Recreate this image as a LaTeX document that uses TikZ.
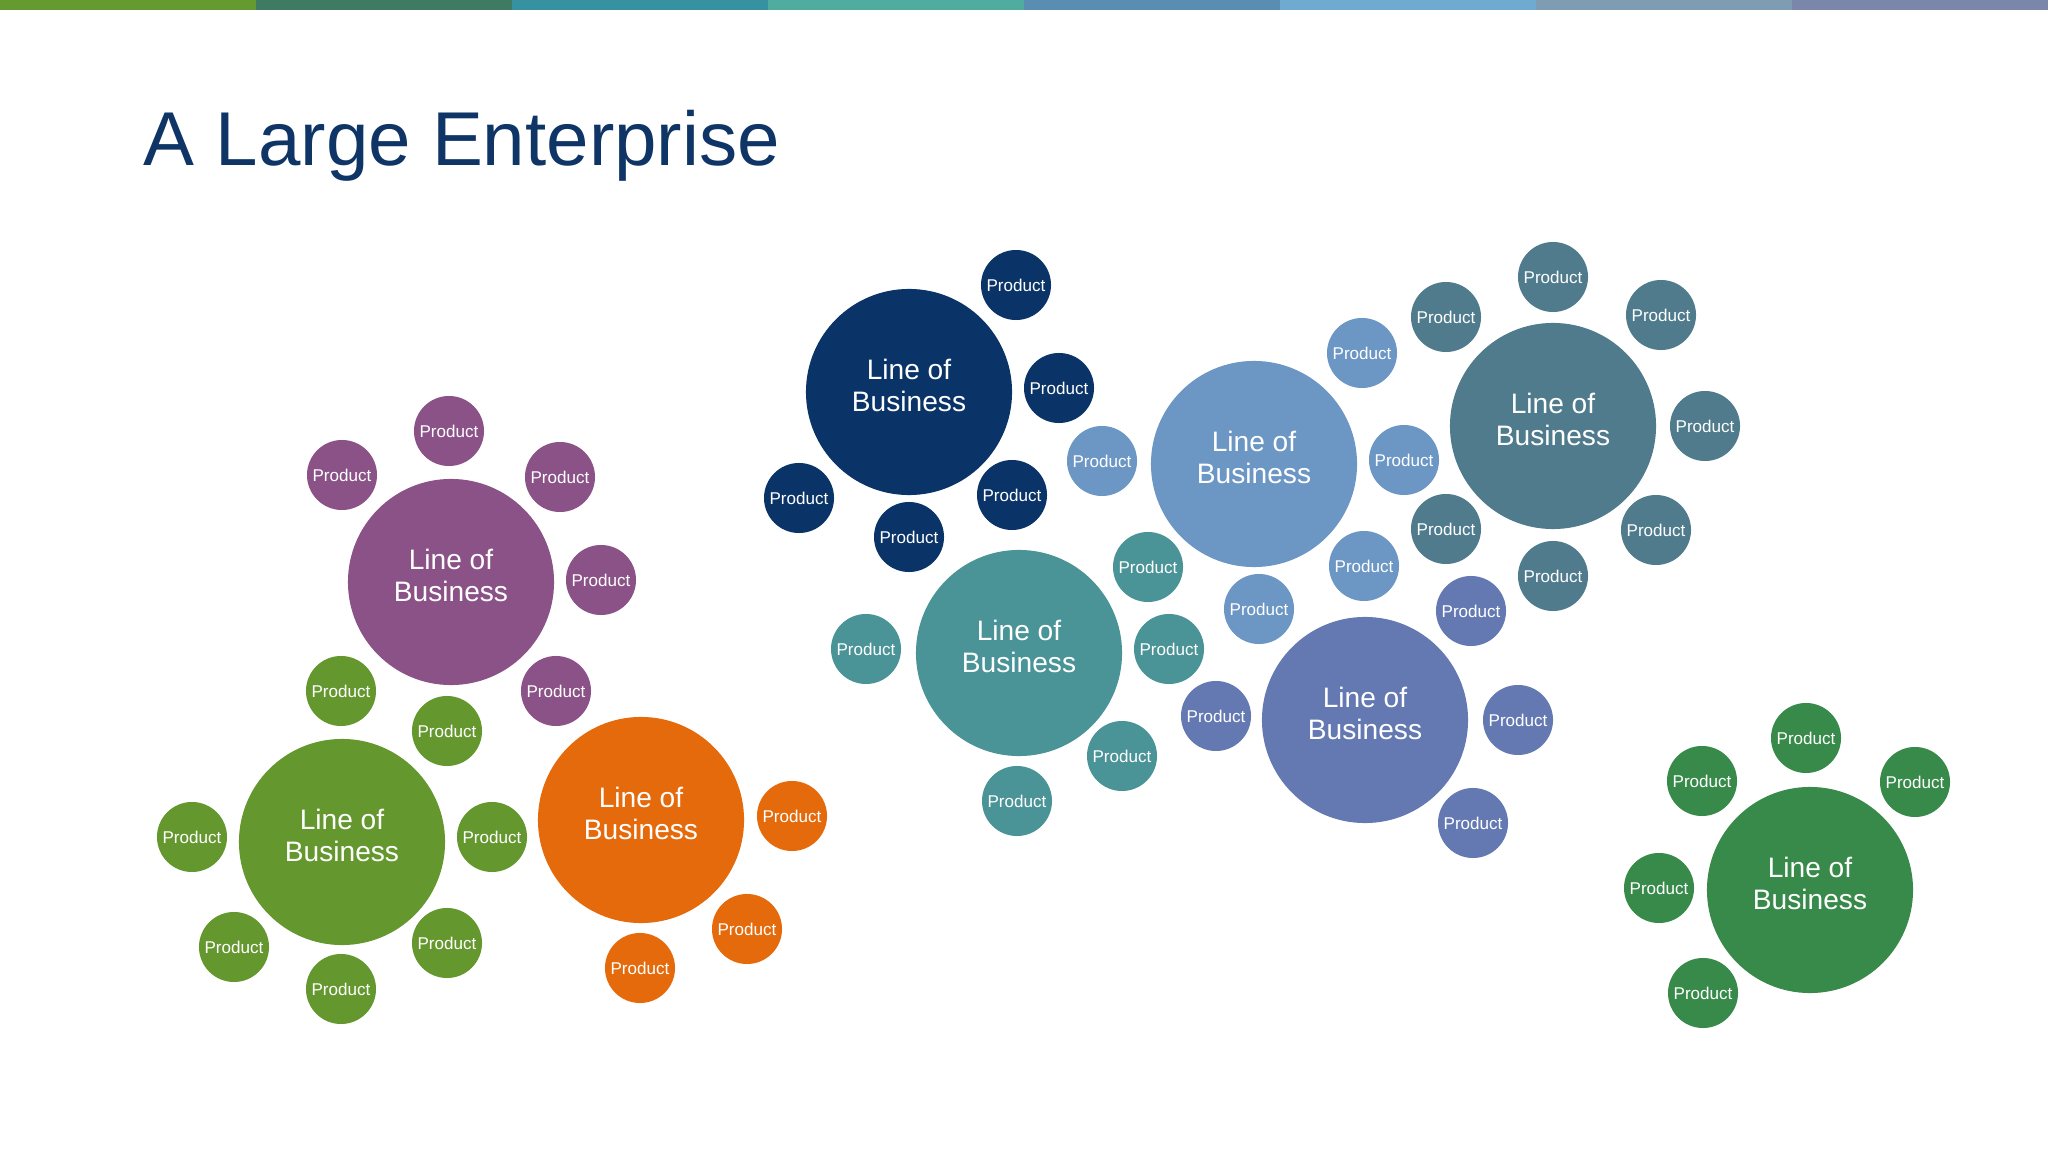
\documentclass[tikz,border=0pt]{standalone}
\usepackage{fontspec}
\setmainfont{Liberation Sans}
\usepackage{tikz}
\usetikzlibrary{positioning}
\usepackage{xcolor}
\definecolor{titleblue}{RGB}{14,53,102}
\definecolor{lobpurple}{RGB}{138,82,135}
\definecolor{lobolive}{RGB}{100,152,47}
\definecolor{loborange}{RGB}{229,106,12}
\definecolor{lobnavy}{RGB}{10,52,104}
\definecolor{lobteal}{RGB}{74,148,151}
\definecolor{loblight}{RGB}{108,150,196}
\definecolor{lobslate}{RGB}{79,123,140}
\definecolor{lobperi}{RGB}{100,121,178}
\definecolor{lobgreen}{RGB}{55,138,73}
\definecolor{barA}{RGB}{101,154,49}
\definecolor{barB}{RGB}{63,123,98}
\definecolor{barC}{RGB}{54,145,160}
\definecolor{barD}{RGB}{79,172,158}
\definecolor{barE}{RGB}{90,141,178}
\definecolor{barF}{RGB}{111,170,208}
\definecolor{barG}{RGB}{126,157,179}
\definecolor{barH}{RGB}{122,135,170}

\begin{document}
\begin{tikzpicture}[x=0.01cm,y=-0.01cm,
    lob/.style={circle,minimum size=2.06cm,inner sep=0pt,text=white,align=center,
      text height=11.2pt,text depth=0pt,font=\fontsize{8}{9.2}\selectfont},
    prod/.style={circle,minimum size=0.70cm,inner sep=0pt,text=white,
      font=\fontsize{4.85}{5.5}\selectfont}]
        \useasboundingbox (0,0) rectangle (2048,1152);
        \fill[white] (0,0) rectangle (2048,1152);
        % colour bar on top
        \foreach \c [count=\i from 0] in {barA,barB,barC,barD,barE,barF,barG,barH}
          \fill[\c] (\i*256,0) rectangle ++(256,10);
        \node[anchor=base west,inner sep=0pt,text=titleblue,
          font=\fontsize{21.7}{24}\selectfont] (title) at (143,166) {A Large Enterprise};
        % purple
        \node[lob,fill=lobpurple] (purple) at (451,582) {Line of\\Business};
        \foreach \x/\y [count=\i] in {449/431,342/475,560/477,601/580,556/691}
          \node[prod,fill=lobpurple] (purple-p\i) at (\x,\y) {Product};
        % olive
        \node[lob,fill=lobolive] (olive) at (342,842) {Line of\\Business};
        \foreach \x/\y [count=\i] in {341/691,447/731,192/837,492/837,234/947,447/943,341/989}
          \node[prod,fill=lobolive] (olive-p\i) at (\x,\y) {Product};
        % orange
        \node[lob,fill=loborange] (orange) at (641,820) {Line of\\Business};
        \foreach \x/\y [count=\i] in {792/816,747/929,640/968}
          \node[prod,fill=loborange] (orange-p\i) at (\x,\y) {Product};
        % navy
        \node[lob,fill=lobnavy] (navy) at (909,392) {Line of\\Business};
        \foreach \x/\y [count=\i] in {1016/285,1059/388,799/498,1012/495,909/537}
          \node[prod,fill=lobnavy] (navy-p\i) at (\x,\y) {Product};
        % teal
        \node[lob,fill=lobteal] (teal) at (1019,653) {Line of\\Business};
        \foreach \x/\y [count=\i] in {866/649,1148/567,1169/649,1122/756,1017/801}
          \node[prod,fill=lobteal] (teal-p\i) at (\x,\y) {Product};
        % light blue
        \node[lob,fill=loblight] (light) at (1254,464) {Line of\\Business};
        \foreach \x/\y [count=\i] in {1362/353,1102/461,1404/460,1364/566,1259/609}
          \node[prod,fill=loblight] (light-p\i) at (\x,\y) {Product};
        % slate
        \node[lob,fill=lobslate] (slate) at (1553,426) {Line of\\Business};
        \foreach \x/\y [count=\i] in {1553/277,1446/317,1661/315,1705/426,1446/529,1656/530,1553/576}
          \node[prod,fill=lobslate] (slate-p\i) at (\x,\y) {Product};
        % periwinkle
        \node[lob,fill=lobperi] (peri) at (1365,720) {Line of\\Business};
        \foreach \x/\y [count=\i] in {1471/611,1216/716,1518/720,1473/823}
          \node[prod,fill=lobperi] (peri-p\i) at (\x,\y) {Product};
        % green
        \node[lob,fill=lobgreen] (green) at (1810,890) {Line of\\Business};
        \foreach \x/\y [count=\i] in {1806/738,1702/781,1915/782,1659/888,1703/993}
          \node[prod,fill=lobgreen] (green-p\i) at (\x,\y) {Product};
      \end{tikzpicture}
\end{document}
